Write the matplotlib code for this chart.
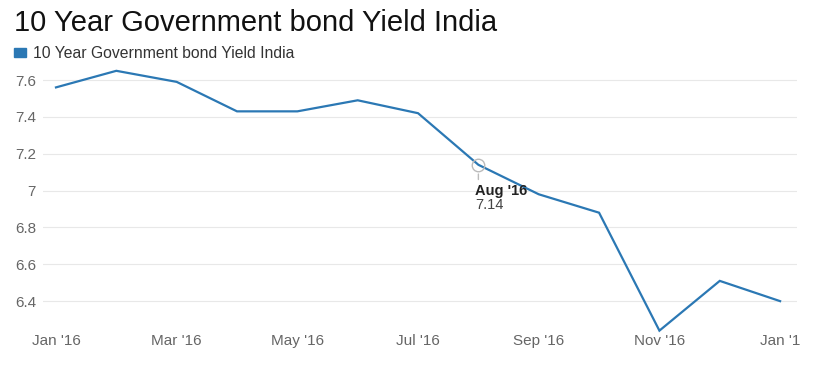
import matplotlib.pyplot as plt

months = ["Jan '16", "Feb '16", "Mar '16", "Apr '16", "May '16", "Jun '16", "Jul '16",
          "Aug '16", "Sep '16", "Oct '16", "Nov '16", "Dec '16", "Jan '17"]
yields = [7.56, 7.65, 7.59, 7.43, 7.43, 7.49, 7.42, 7.14, 6.98, 6.88, 6.24, 6.51, 6.40]
tick_idx = [0, 2, 4, 6, 8, 10, 12]
tick_labels = ["Jan '16", "Mar '16", "May '16", "Jul '16", "Sep '16", "Nov '16", "Jan '1"]
y_ticks = [6.4, 6.6, 6.8, 7.0, 7.2, 7.4, 7.6]
y_labels = ["6.4", "6.6", "6.8", "7", "7.2", "7.4", "7.6"]

plt.rcParams['font.family'] = ['Liberation Sans', 'DejaVu Sans']
blue = '#2b78b4'
grey = '#666666'

fig = plt.figure(figsize=(8.17, 3.71), dpi=100)
ax = fig.add_axes([43/817, 33/371, 754/817, 276.4/371])

x = list(range(len(months)))
ax.plot(x, yields, color=blue, linewidth=1.6, solid_joinstyle='miter')

ax.set_xlim(-0.215, 12.28)
ax.set_ylim(6.2, 7.7)
ax.set_yticks(y_ticks)
ax.set_yticklabels(y_labels)
ax.set_xticks(tick_idx)
ax.set_xticklabels(tick_labels)
ax.tick_params(axis='both', length=0, labelsize=11, labelcolor=grey)
ax.tick_params(axis='x', pad=-3)
ax.tick_params(axis='y', pad=5)
ax.grid(axis='y', color='#e8e8e8', linewidth=0.8)
ax.set_axisbelow(True)
for s in ax.spines.values():
    s.set_visible(False)

# tooltip-like marker at Aug '16
i = 7
ax.plot([i], [yields[i]], marker='o', markersize=9, markerfacecolor='none',
        markeredgecolor='#bbbbbb', markeredgewidth=1)
ax.annotate('', xy=(i, yields[i] - 0.035), xytext=(i, yields[i] - 0.095),
            arrowprops=dict(arrowstyle='-', color='#bbbbbb', lw=1))
ax.text(i - 0.05, yields[i] - 0.14, months[i], fontsize=10.5, fontweight='bold',
        color='#222222', ha='left', va='center')
ax.text(i - 0.05, yields[i] - 0.22, '%.2f' % yields[i], fontsize=10.5,
        color='#444444', ha='left', va='center')

fig.text(14/817, 1 - 23/371, '10 Year Government bond Yield India', fontsize=21,
         color='#111111', ha='left', va='center')
fig.patches.append(plt.Rectangle((14/817, 1 - 57/371), 12/817, 9/371,
                                 transform=fig.transFigure, color=blue))
fig.text(33/817, 1 - 54/371, '10 Year Government bond Yield India', fontsize=11.3,
         color='#333333', ha='left', va='center')

fig.savefig('out.png', dpi=100)
